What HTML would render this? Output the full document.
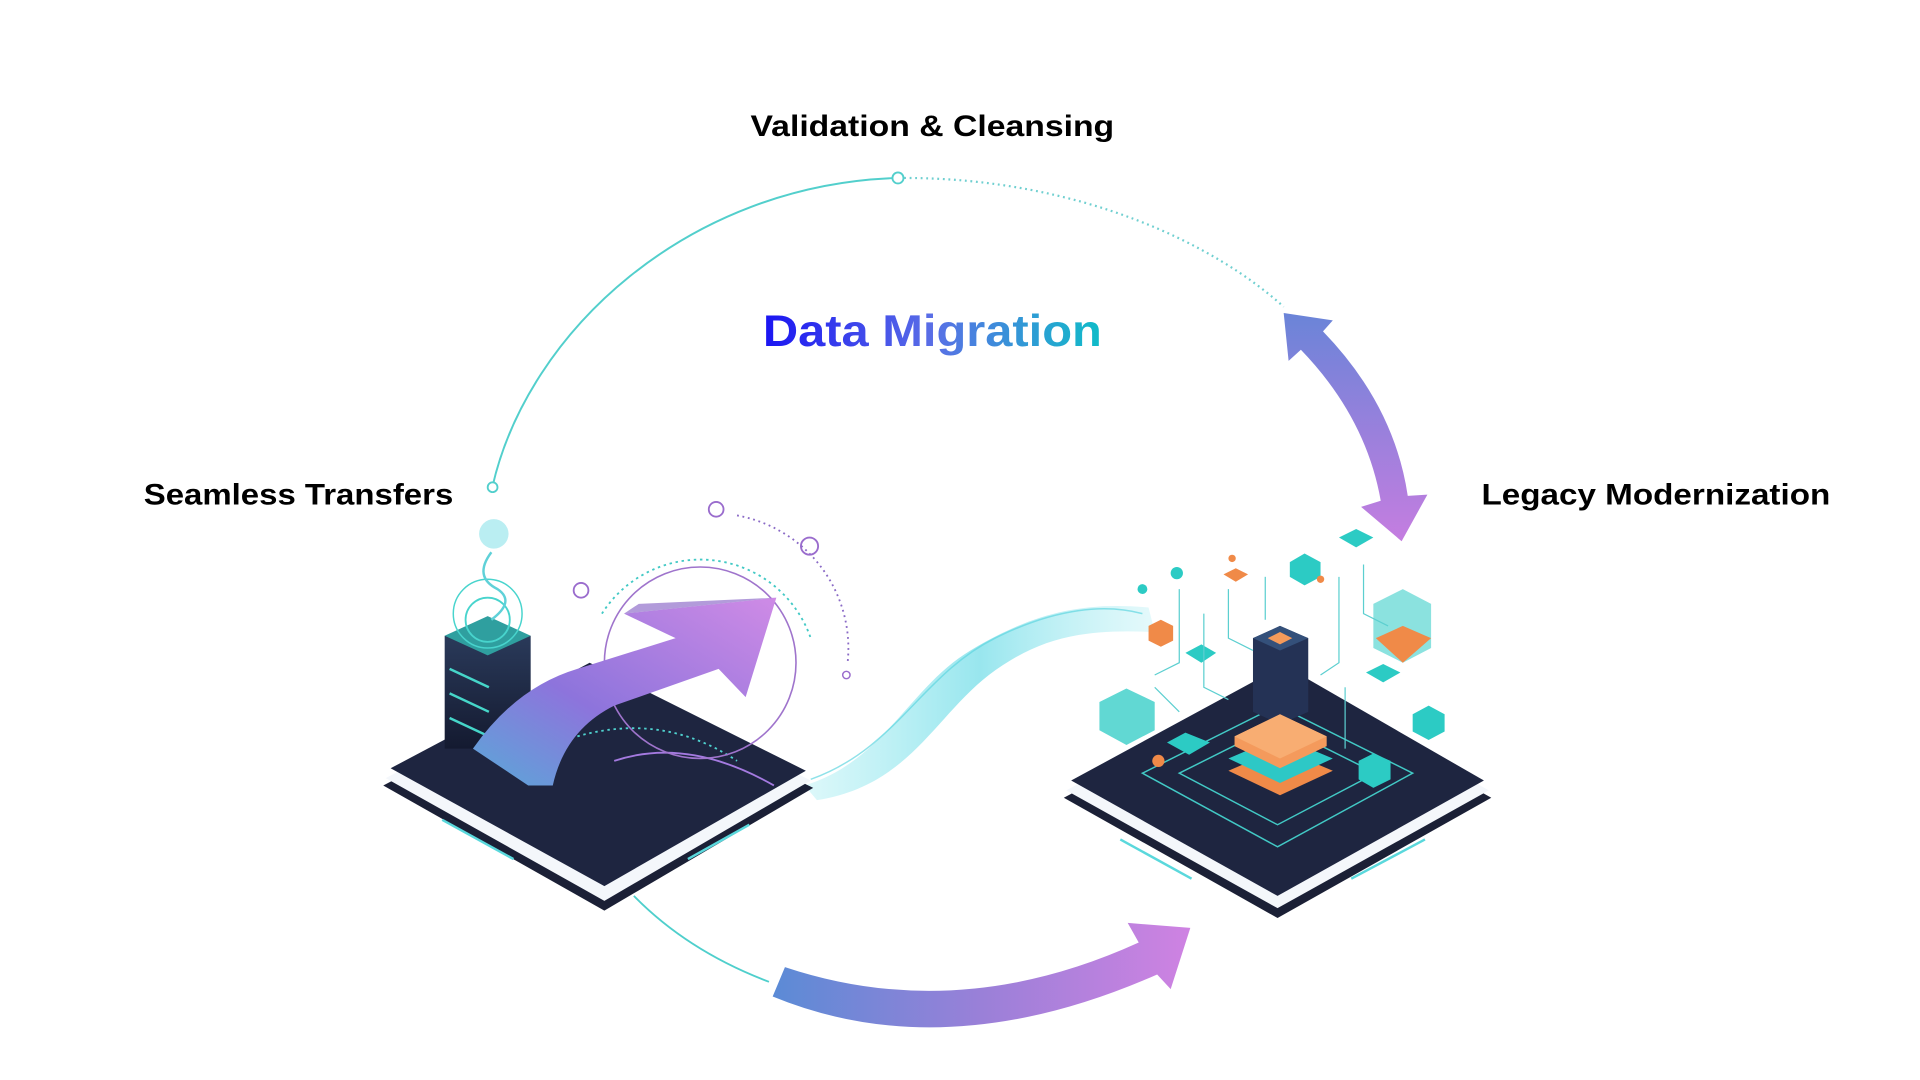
<!DOCTYPE html>
<html><head><meta charset="utf-8"><style>
html,body{margin:0;padding:0;background:#fff;width:1920px;height:1080px;overflow:hidden}
svg{display:block}
</style></head><body>
<svg width="1920" height="1080" viewBox="0 0 1563 880" preserveAspectRatio="none" xmlns="http://www.w3.org/2000/svg">
<defs>
<linearGradient id="dm" x1="0" x2="1"><stop offset="0" stop-color="#1a14f2"/><stop offset="0.5" stop-color="#5a6fe6"/><stop offset="1" stop-color="#0fbcc8"/></linearGradient>
<linearGradient id="ba" x1="0" x2="1"><stop offset="0" stop-color="#5b8bd6"/><stop offset="0.5" stop-color="#9a80d8"/><stop offset="1" stop-color="#cf82e2"/></linearGradient>
<linearGradient id="da" x1="0" y1="0" x2="0" y2="1"><stop offset="0" stop-color="#6a84d8"/><stop offset="1" stop-color="#c57de0"/></linearGradient>
<linearGradient id="pa" x1="0" y1="1" x2="1" y2="0"><stop offset="0" stop-color="#5aa8d8"/><stop offset="0.4" stop-color="#8d74dc"/><stop offset="1" stop-color="#cf8be6"/></linearGradient>
<linearGradient id="wv" x1="0" x2="1"><stop offset="0" stop-color="#8ee8ee" stop-opacity="0.3"/><stop offset="0.5" stop-color="#7fe0ea" stop-opacity="0.8"/><stop offset="1" stop-color="#a8ecf2" stop-opacity="0.3"/></linearGradient>
<linearGradient id="sv" x1="0" y1="0" x2="0" y2="1"><stop offset="0" stop-color="#2a3a5a"/><stop offset="1" stop-color="#141a30"/></linearGradient>
</defs>

<!-- arc -->
<path d="M401,396 C430,270 560,150 731,145" fill="none" stroke="#52cfcc" stroke-width="1.6"/>
<path d="M736,145 C880,145 990,200 1045,250" fill="none" stroke="#6fcfd0" stroke-width="1.8" stroke-dasharray="1.5 3"/>
<circle cx="731" cy="145" r="4.5" fill="#fff" stroke="#52cfcc" stroke-width="1.5"/>
<circle cx="401" cy="397" r="4" fill="#fff" stroke="#52cfcc" stroke-width="1.5"/>

<!-- texts -->
<text x="611" y="111" font-family="Liberation Sans, sans-serif" font-weight="bold" font-size="24" textLength="296" lengthAdjust="spacingAndGlyphs">Validation &amp; Cleansing</text>
<text x="621" y="282" font-family="Liberation Sans, sans-serif" font-weight="bold" font-size="36" fill="url(#dm)" textLength="276" lengthAdjust="spacingAndGlyphs">Data Migration</text>
<text x="117" y="411" font-family="Liberation Sans, sans-serif" font-weight="bold" font-size="24" textLength="252" lengthAdjust="spacingAndGlyphs">Seamless Transfers</text>
<text x="1206" y="411" font-family="Liberation Sans, sans-serif" font-weight="bold" font-size="24" textLength="284" lengthAdjust="spacingAndGlyphs">Legacy Modernization</text>

<!-- double arrow -->
<path d="M1045,255 L1085,261 L1077,270 Q1135,330 1146,404 L1162,403 L1141,441 L1108,413 L1124,408 Q1112,340 1059,285 L1049,294 Z" fill="url(#da)"/>

<!-- bottom arrow -->
<path d="M639,788 Q780,835 927,768 L918,752 L969,756 L953,806 L942,794 Q770,870 629,812 Z" fill="url(#ba)"/>
<path d="M516,730 Q560,775 626,800" fill="none" stroke="#4fcfcc" stroke-width="1.5"/>

<!-- wave -->
<path d="M655,640 C720,620 740,560 790,530 C840,500 880,490 935,495 L940,515 C880,512 845,520 805,550 C760,585 740,640 665,652 Z" fill="url(#wv)"/>
<path d="M660,635 C730,610 750,550 810,520 C860,495 900,492 930,500" fill="none" stroke="#5fd6e0" stroke-width="1.2" opacity="0.7"/>

<!-- left platform -->
<g>
<path d="M312,640 L480,552 L662,642 L492,742 Z" fill="#1b2036"/>
<path d="M314,634 L480,546 L660,636 L492,734 Z" fill="#f4f7fb"/>
<path d="M318,626 L480,540 L656,628 L492,722 Z" fill="#1e2540"/>
<path d="M360,668 L418,700" stroke="#5ad8dc" stroke-width="2"/>
<path d="M560,700 L610,672" stroke="#5ad8dc" stroke-width="2"/>
<path d="M470,600 Q540,580 600,620" fill="none" stroke="#4fd2cf" stroke-width="1.5" stroke-dasharray="2 3"/>
<path d="M500,620 Q560,600 630,640" fill="none" stroke="#a47ae0" stroke-width="1.5"/>
<!-- server -->
<rect x="362" y="518" width="70" height="92" fill="url(#sv)"/>
<path d="M362,518 L397,502 L432,518 L397,534 Z" fill="#2f9f9f"/>
<g stroke="#46d6c9" stroke-width="2"><line x1="366" y1="545" x2="398" y2="560"/><line x1="366" y1="565" x2="398" y2="580"/><line x1="366" y1="585" x2="398" y2="600"/></g>
<circle cx="397" cy="505" r="18" fill="none" stroke="#48d4cd" stroke-width="1.5"/>
<circle cx="397" cy="500" r="28" fill="none" stroke="#48d4cd" stroke-width="1.2"/>
<circle cx="402" cy="435" r="12" fill="#9de7ec" opacity="0.7"/>
<path d="M400,450 Q385,470 405,480 Q420,490 400,505" fill="none" stroke="#5fd1d8" stroke-width="2"/>
<!-- circles -->
<circle cx="570" cy="540" r="78" fill="none" stroke="#9f74cc" stroke-width="1.3"/>
<path d="M490,500 A95,95 0 0 1 660,520" fill="none" stroke="#42c9c5" stroke-width="1.5" stroke-dasharray="2 3"/>
<path d="M600,420 A110,110 0 0 1 690,540" fill="none" stroke="#8a6ac6" stroke-width="1.5" stroke-dasharray="1.5 3"/>
<circle cx="583" cy="415" r="6" fill="none" stroke="#9a6ccd" stroke-width="1.5"/>
<circle cx="659" cy="445" r="7" fill="none" stroke="#9a6ccd" stroke-width="1.5"/>
<circle cx="473" cy="481" r="6" fill="none" stroke="#9a6ccd" stroke-width="1.5"/>
<circle cx="689" cy="550" r="3" fill="none" stroke="#9a6ccd" stroke-width="1.2"/>
<!-- big arrow -->
<path d="M430,640 L385,610 Q420,560 470,545 L550,520 L508,500 L632,487 L607,568 L585,545 L500,575 Q460,595 450,640 Z" fill="url(#pa)"/>
<path d="M508,500 L520,492 L632,487 Z" fill="#7e58c2" opacity="0.6"/>
</g>

<!-- right platform -->
<g>
<path d="M866,650 L1045,555 L1214,650 L1040,748 Z" fill="#1b2036"/>
<path d="M868,644 L1045,549 L1212,644 L1040,740 Z" fill="#f4f7fb"/>
<path d="M872,636 L1045,542 L1208,636 L1040,730 Z" fill="#1e2540"/>
<path d="M912,684 L970,716" stroke="#5ad8dc" stroke-width="2"/>
<path d="M1100,716 L1160,684" stroke="#5ad8dc" stroke-width="2"/>
<path d="M930,630 L1040,575 L1150,630 L1040,690 Z" fill="none" stroke="#42c9c5" stroke-width="1.2"/>
<path d="M960,630 L1040,590 L1120,630 L1040,672 Z" fill="none" stroke="#42c9c5" stroke-width="1.2"/>
<!-- tower -->
<path d="M1020,520 L1042,510 L1065,520 L1065,580 L1042,590 L1020,580 Z" fill="#243255"/>
<path d="M1020,520 L1042,510 L1065,520 L1042,530 Z" fill="#34507a"/>
<path d="M1032,520 L1042,515 L1052,520 L1042,525 Z" fill="#f59a5a"/>
<!-- orange stack -->
<path d="M1000,628 L1042,610 L1085,628 L1042,648 Z" fill="#f08a48"/>
<path d="M1000,618 L1042,600 L1085,618 L1042,638 Z" fill="#2dc8c6"/>
<path d="M1005,600 L1042,582 L1080,600 L1080,608 L1042,626 L1005,608 Z" fill="#f49a5c"/>
<path d="M1005,600 L1042,582 L1080,600 L1042,618 Z" fill="#f8ad72"/>
<!-- cubes -->
<g fill="#2ccbc4">
<path d="M895,572 L917,561 L940,572 L940,595 L917,607 L895,595 Z" opacity="0.75"/>
<path d="M1118,492 L1142,480 L1165,492 L1165,528 L1142,540 L1118,528 Z" opacity="0.55"/>
<path d="M1090,438 L1104,431 L1118,438 L1104,446 Z"/>
<path d="M1050,458 L1062,451 L1075,458 L1075,470 L1062,477 L1050,470 Z"/>
<path d="M965,532 L978,525 L990,532 L978,540 Z"/>
<path d="M1112,548 L1126,541 L1140,548 L1126,556 Z"/>
<path d="M1150,582 L1163,575 L1176,582 L1176,596 L1163,603 L1150,596 Z"/>
<path d="M950,605 L965,597 L985,605 L968,615 Z"/>
<path d="M1106,620 L1118,614 L1132,620 L1132,635 L1118,642 L1106,635 Z"/>
<circle cx="958" cy="467" r="5"/><circle cx="930" cy="480" r="4"/>
</g>
<g fill="#f08a48">
<path d="M1120,520 L1142,510 L1165,520 L1142,540 Z"/>
<path d="M935,510 L945,505 L955,510 L955,522 L945,527 L935,522 Z"/>
<path d="M996,468 L1006,463 L1016,468 L1006,474 Z"/>
<circle cx="943" cy="620" r="5"/><circle cx="1003" cy="455" r="3"/><circle cx="1075" cy="472" r="3"/>
</g>
<g fill="none" stroke="#5ccfd0" stroke-width="1">
<path d="M1000,480 L1000,520 L1020,530"/><path d="M980,500 L980,560 L1000,570"/>
<path d="M1090,470 L1090,540 L1075,550"/><path d="M1110,460 L1110,500 L1130,510"/>
<path d="M960,480 L960,540 L940,550"/><path d="M1030,470 L1030,505"/>
<path d="M1095,560 L1095,610"/><path d="M940,560 L960,580"/>
</g>
</g>
</svg>
</body></html>
